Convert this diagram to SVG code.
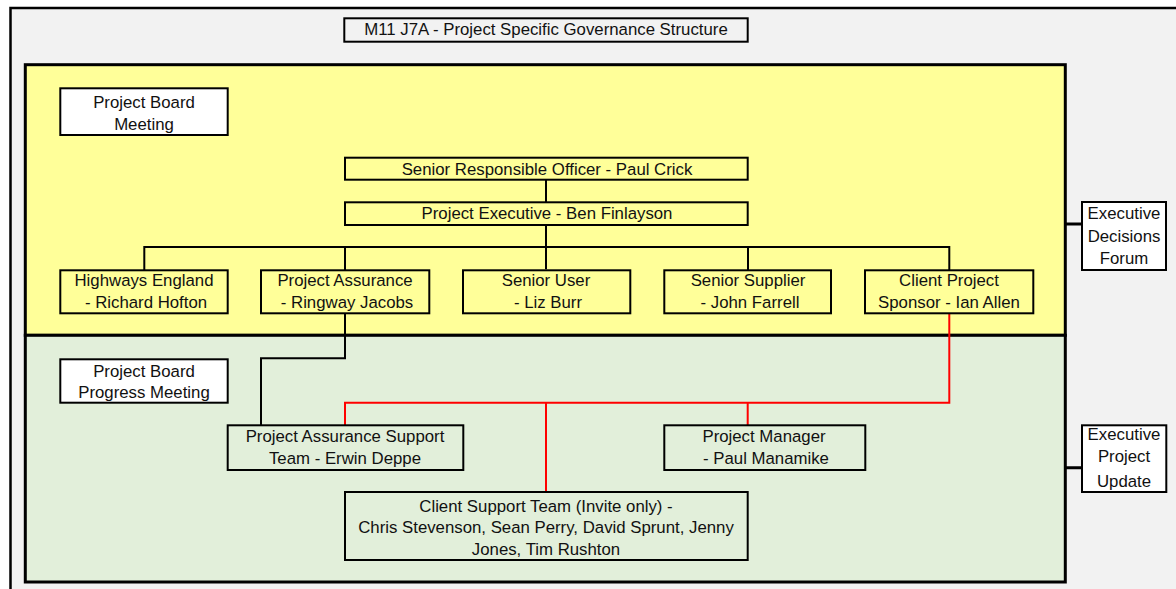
<svg xmlns="http://www.w3.org/2000/svg" width="1176" height="589" viewBox="0 0 1176 589">
<style>
text{font-family:"Liberation Sans",Arial,sans-serif;font-size:16.8px;fill:#111;text-anchor:middle}
.box{fill:none;stroke:#000;stroke-width:2}
.wbox{fill:#fff;stroke:#000;stroke-width:2}
.panel{stroke:#000;stroke-width:3}
.blk{fill:none;stroke:#000;stroke-width:2}
.red{fill:none;stroke:#f00;stroke-width:2}
.thk{fill:none;stroke:#000;stroke-width:3}
</style>
<rect width="1176" height="589" fill="#fff"/>
<rect x="10.5" y="8" width="1180" height="600" fill="#f2f2f2" stroke="#000" stroke-width="2.5"/>
<g id="panel-board">
<rect class="panel" x="25.3" y="64.7" width="1040" height="270.6" fill="#ffff99"/>
</g>
<g id="panel-progress">
<rect class="panel" x="25.3" y="335.3" width="1040" height="246.7" fill="#e2efda"/>
</g>
<g id="title">
<rect class="box" x="344.3" y="18.3" width="403.4" height="23.4"/>
<text x="546" y="35">M11 J7A - Project Specific Governance Structure</text>
</g>
<g id="connectors">
<path class="blk" d="M546 179.7V202.3M546 225V269.3M144.3 247H949.3M144.3 246V270.3M345 246V270.3M748 246V270.3M949.3 246V270.3"/>
<path class="blk" d="M345 313.3V358.3H261V425.3"/>
<path class="red" d="M949.3 313.3V402.7H345V425.3M546 402.7V492M747.7 402.7V425.3"/>
<path class="thk" d="M1065.3 224H1082M1065.3 467.7H1082"/>
</g>
<g id="project-board-meeting">
<rect class="wbox" x="60.3" y="88.3" width="167.4" height="46.7"/>
<text x="144" y="108">Project Board</text>
<text x="144" y="130">Meeting</text>
</g>
<g id="sro">
<rect class="box" x="345" y="157.7" width="402.7" height="22"/>
<text x="547" y="175">Senior Responsible Officer - Paul Crick</text>
</g>
<g id="project-executive">
<rect class="box" x="345" y="202.3" width="402.7" height="22.7"/>
<text x="547" y="219">Project Executive - Ben Finlayson</text>
</g>
<g id="highways-england">
<rect class="box" x="60.3" y="270.3" width="167.4" height="43"/>
<text x="144" y="286">Highways England</text>
<text x="146" y="308">- Richard Hofton</text>
</g>
<g id="project-assurance">
<rect class="box" x="261" y="270.3" width="168.3" height="43"/>
<text x="345" y="286">Project Assurance</text>
<text x="347" y="308">- Ringway Jacobs</text>
</g>
<g id="senior-user">
<rect class="box" x="463" y="270.3" width="167.3" height="43"/>
<text x="546" y="286">Senior User</text>
<text x="548" y="308">- Liz Burr</text>
</g>
<g id="senior-supplier">
<rect class="box" x="664.3" y="270.3" width="166.7" height="43"/>
<text x="748" y="286">Senior Supplier</text>
<text x="750" y="308">- John Farrell</text>
</g>
<g id="client-project-sponsor">
<rect class="box" x="865" y="270.3" width="168.3" height="43"/>
<text x="949" y="286">Client Project</text>
<text x="949" y="308">Sponsor - Ian Allen</text>
</g>
<g id="executive-decisions-forum">
<rect class="wbox" x="1082" y="202" width="84" height="68"/>
<text x="1124" y="219">Executive</text>
<text x="1124" y="242">Decisions</text>
<text x="1124" y="264">Forum</text>
</g>
<g id="project-board-progress-meeting">
<rect class="wbox" x="60.3" y="359.3" width="167.4" height="43.4"/>
<text x="144" y="377">Project Board</text>
<text x="144" y="398">Progress Meeting</text>
</g>
<g id="project-assurance-support-team">
<rect class="box" x="227.7" y="425.3" width="235.6" height="44.7"/>
<text x="345" y="442">Project Assurance Support</text>
<text x="345" y="464">Team - Erwin Deppe</text>
</g>
<g id="project-manager">
<rect class="box" x="664.3" y="425.3" width="201" height="44.7"/>
<text x="764" y="442">Project Manager</text>
<text x="766" y="464">- Paul Manamike</text>
</g>
<g id="client-support-team">
<rect class="box" x="345" y="492" width="402.7" height="68"/>
<text x="546" y="512">Client Support Team (Invite only) -</text>
<text x="546" y="533">Chris Stevenson, Sean Perry, David Sprunt, Jenny</text>
<text x="546" y="555">Jones, Tim Rushton</text>
</g>
<g id="executive-project-update">
<rect class="wbox" x="1082" y="425.3" width="84.3" height="66.7"/>
<text x="1124" y="440">Executive</text>
<text x="1124" y="462">Project</text>
<text x="1124" y="487">Update</text>
</g>
</svg>
